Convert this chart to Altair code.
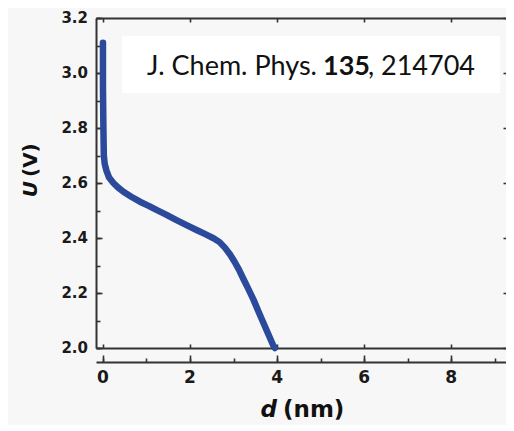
import altair as alt
import pandas as pd

# ---- data ----
d_nm = [0.00, 0.00, 0.01, 0.02, 0.04, 0.08, 0.14, 0.24, 0.35, 0.47, 0.65, 0.85,
        1.05, 1.23, 1.45, 1.69, 1.92, 2.15, 2.35, 2.54, 2.68, 2.80, 2.92, 3.03,
        3.13, 3.23, 3.34, 3.46, 3.58, 3.69, 3.80, 3.91, 3.95]
U_V = [3.11, 2.95, 2.80, 2.70, 2.67, 2.645, 2.62, 2.60, 2.583, 2.568, 2.55, 2.532,
       2.517, 2.502, 2.485, 2.465, 2.447, 2.429, 2.414, 2.399, 2.385, 2.365, 2.34, 2.312,
       2.283, 2.25, 2.215, 2.175, 2.13, 2.09, 2.05, 2.01, 2.00]
x_major = [0, 2, 4, 6, 8]
x_minor = [0, 1, 2, 3, 4, 5, 6, 7, 8, 9]
y_major = [2.0, 2.2, 2.4, 2.6, 2.8, 3.0, 3.2]
y_minor = [2.0, 2.1, 2.2, 2.3, 2.4, 2.5, 2.6, 2.7, 2.8, 2.9, 3.0, 3.1, 3.2]
ref_parts = ["J. Chem. Phys.", "135", ", 214704"]
x_title = ["d", "(nm)"]
y_title = ["U", "(V)"]

df = pd.DataFrame({"d": d_nm, "U": U_V, "i": list(range(len(d_nm)))})

W, H = 410, 330
AXC = "#333333"
LAB = "#1a1a1a"
xs = alt.Scale(domain=[-0.16, 9.26], nice=False, zero=False)
ys = alt.Scale(domain=[2.0, 3.2], nice=False, zero=False)

common = dict(grid=False, title=None, domainColor=AXC, domainWidth=2,
              tickColor=AXC, tickWidth=1.6, labels=False)


def axis_layer(xaxis, yaxis):
    return alt.Chart(df).mark_line(opacity=0).encode(
        x=alt.X("d:Q", scale=xs, axis=xaxis),
        y=alt.Y("U:Q", scale=ys, axis=yaxis),
        order="i:Q",
    )


# top-oriented axes moved down (y = -offset), right-oriented moved left (x = W + offset)
lay_minor = axis_layer(
    alt.Axis(orient="top", offset=-(H + 14), values=x_minor, tickSize=4,
             domain=False, **common),
    alt.Axis(orient="right", offset=-W, values=y_minor, tickSize=4,
             domain=False, **common),
)
lay_major = axis_layer(
    alt.Axis(orient="top", offset=-(H + 14), values=x_major, tickSize=7,
             domain=False, **common),
    alt.Axis(orient="right", offset=-W, values=y_major, tickSize=6,
             domain=False, **common),
)
lay_topframe = axis_layer(
    alt.Axis(orient="bottom", offset=-H, values=x_major, tickSize=4,
             domain=True, **common),
    alt.Axis(orient="left", offset=-W, values=y_major, tickSize=3,
             domain=False, **common),
)
lay_botframe = axis_layer(
    alt.Axis(orient="top", offset=-H, values=x_major, tickSize=4,
             domain=True, **common),
    None,
)

main = alt.Chart(df).mark_line(
    color="#2c4a9b", strokeWidth=6.5, strokeCap="round", strokeJoin="round"
).encode(
    x=alt.X("d:Q", scale=xs,
            axis=alt.Axis(orient="bottom", offset=14, values=x_major, ticks=False,
                          domain=True, **common)),
    y=alt.Y("U:Q", scale=ys,
            axis=alt.Axis(orient="left", values=y_major, ticks=False,
                          domain=True, **common)),
    order="i:Q",
)

# tick labels drawn through the same scales
ylab = alt.Chart(pd.DataFrame({"v": y_major})).mark_text(
    font="DejaVu Sans", fontWeight="bold", fontSize=15, align="right",
    baseline="middle", color=LAB, dx=-8
).encode(
    y=alt.Y("v:Q", scale=ys, axis=None), x=alt.value(0),
    text=alt.Text("v:Q", format=".1f"),
)
xlab = alt.Chart(pd.DataFrame({"v": x_major})).mark_text(
    font="DejaVu Sans", fontWeight="bold", fontSize=17, align="center",
    baseline="top", color=LAB, dy=0
).encode(
    x=alt.X("v:Q", scale=xs, axis=None), y=alt.value(H + 22),
    text=alt.Text("v:Q", format="d"),
)

one = pd.DataFrame({"k": [0]})
box = alt.Chart(one).mark_rect(color="white").encode(
    x=alt.value(26), x2=alt.value(404), y=alt.value(18), y2=alt.value(75)
)


def txt(s, x, y, **kw):
    return alt.Chart(pd.DataFrame({"t": [s]})).mark_text(**kw).encode(
        text="t:N", x=alt.value(x), y=alt.value(y)
    )


ref1 = txt(ref_parts[0], 221, 49, font="Lato", fontSize=27, align="right",
           baseline="middle", color="#111111")
ref2 = txt(ref_parts[1], 227, 49, font="Lato", fontSize=27, fontWeight="bold",
           align="left", baseline="middle", color="#111111")
ref3 = txt(ref_parts[2], 272, 49, font="Lato", fontSize=27, align="left",
           baseline="middle", color="#111111")

xt1 = txt(x_title[0], 181, 392, font="DejaVu Sans", fontSize=23, fontWeight="bold",
          fontStyle="italic", align="right", baseline="middle", color="#111111")
xt2 = txt(x_title[1], 187, 392, font="DejaVu Sans", fontSize=23, fontWeight="bold",
          align="left", baseline="middle", color="#111111")
yt1 = txt(y_title[0], -65, 163, font="DejaVu Sans", fontSize=20, fontWeight="bold",
          fontStyle="italic", angle=270, align="right", baseline="middle",
          color="#111111")
yt2 = txt(y_title[1], -65, 159, font="DejaVu Sans", fontSize=20, fontWeight="bold",
          angle=270, align="left", baseline="middle", color="#111111")

chart = alt.layer(
    box, ref1, ref2, ref3, xt1, xt2, yt1, yt2, ylab, xlab,
    lay_minor, lay_major, lay_topframe, lay_botframe, main,
).resolve_axis(x="independent", y="independent").properties(
    width=W, height=H,
    padding={"left": 88, "top": 10, "right": 0, "bottom": 77},
    autosize=alt.AutoSizeParams(type="none"),
    background="#f7f7f7",
).configure_view(stroke=None)

chart.save("out.html", embed_options={"renderer": "svg", "actions": False})
